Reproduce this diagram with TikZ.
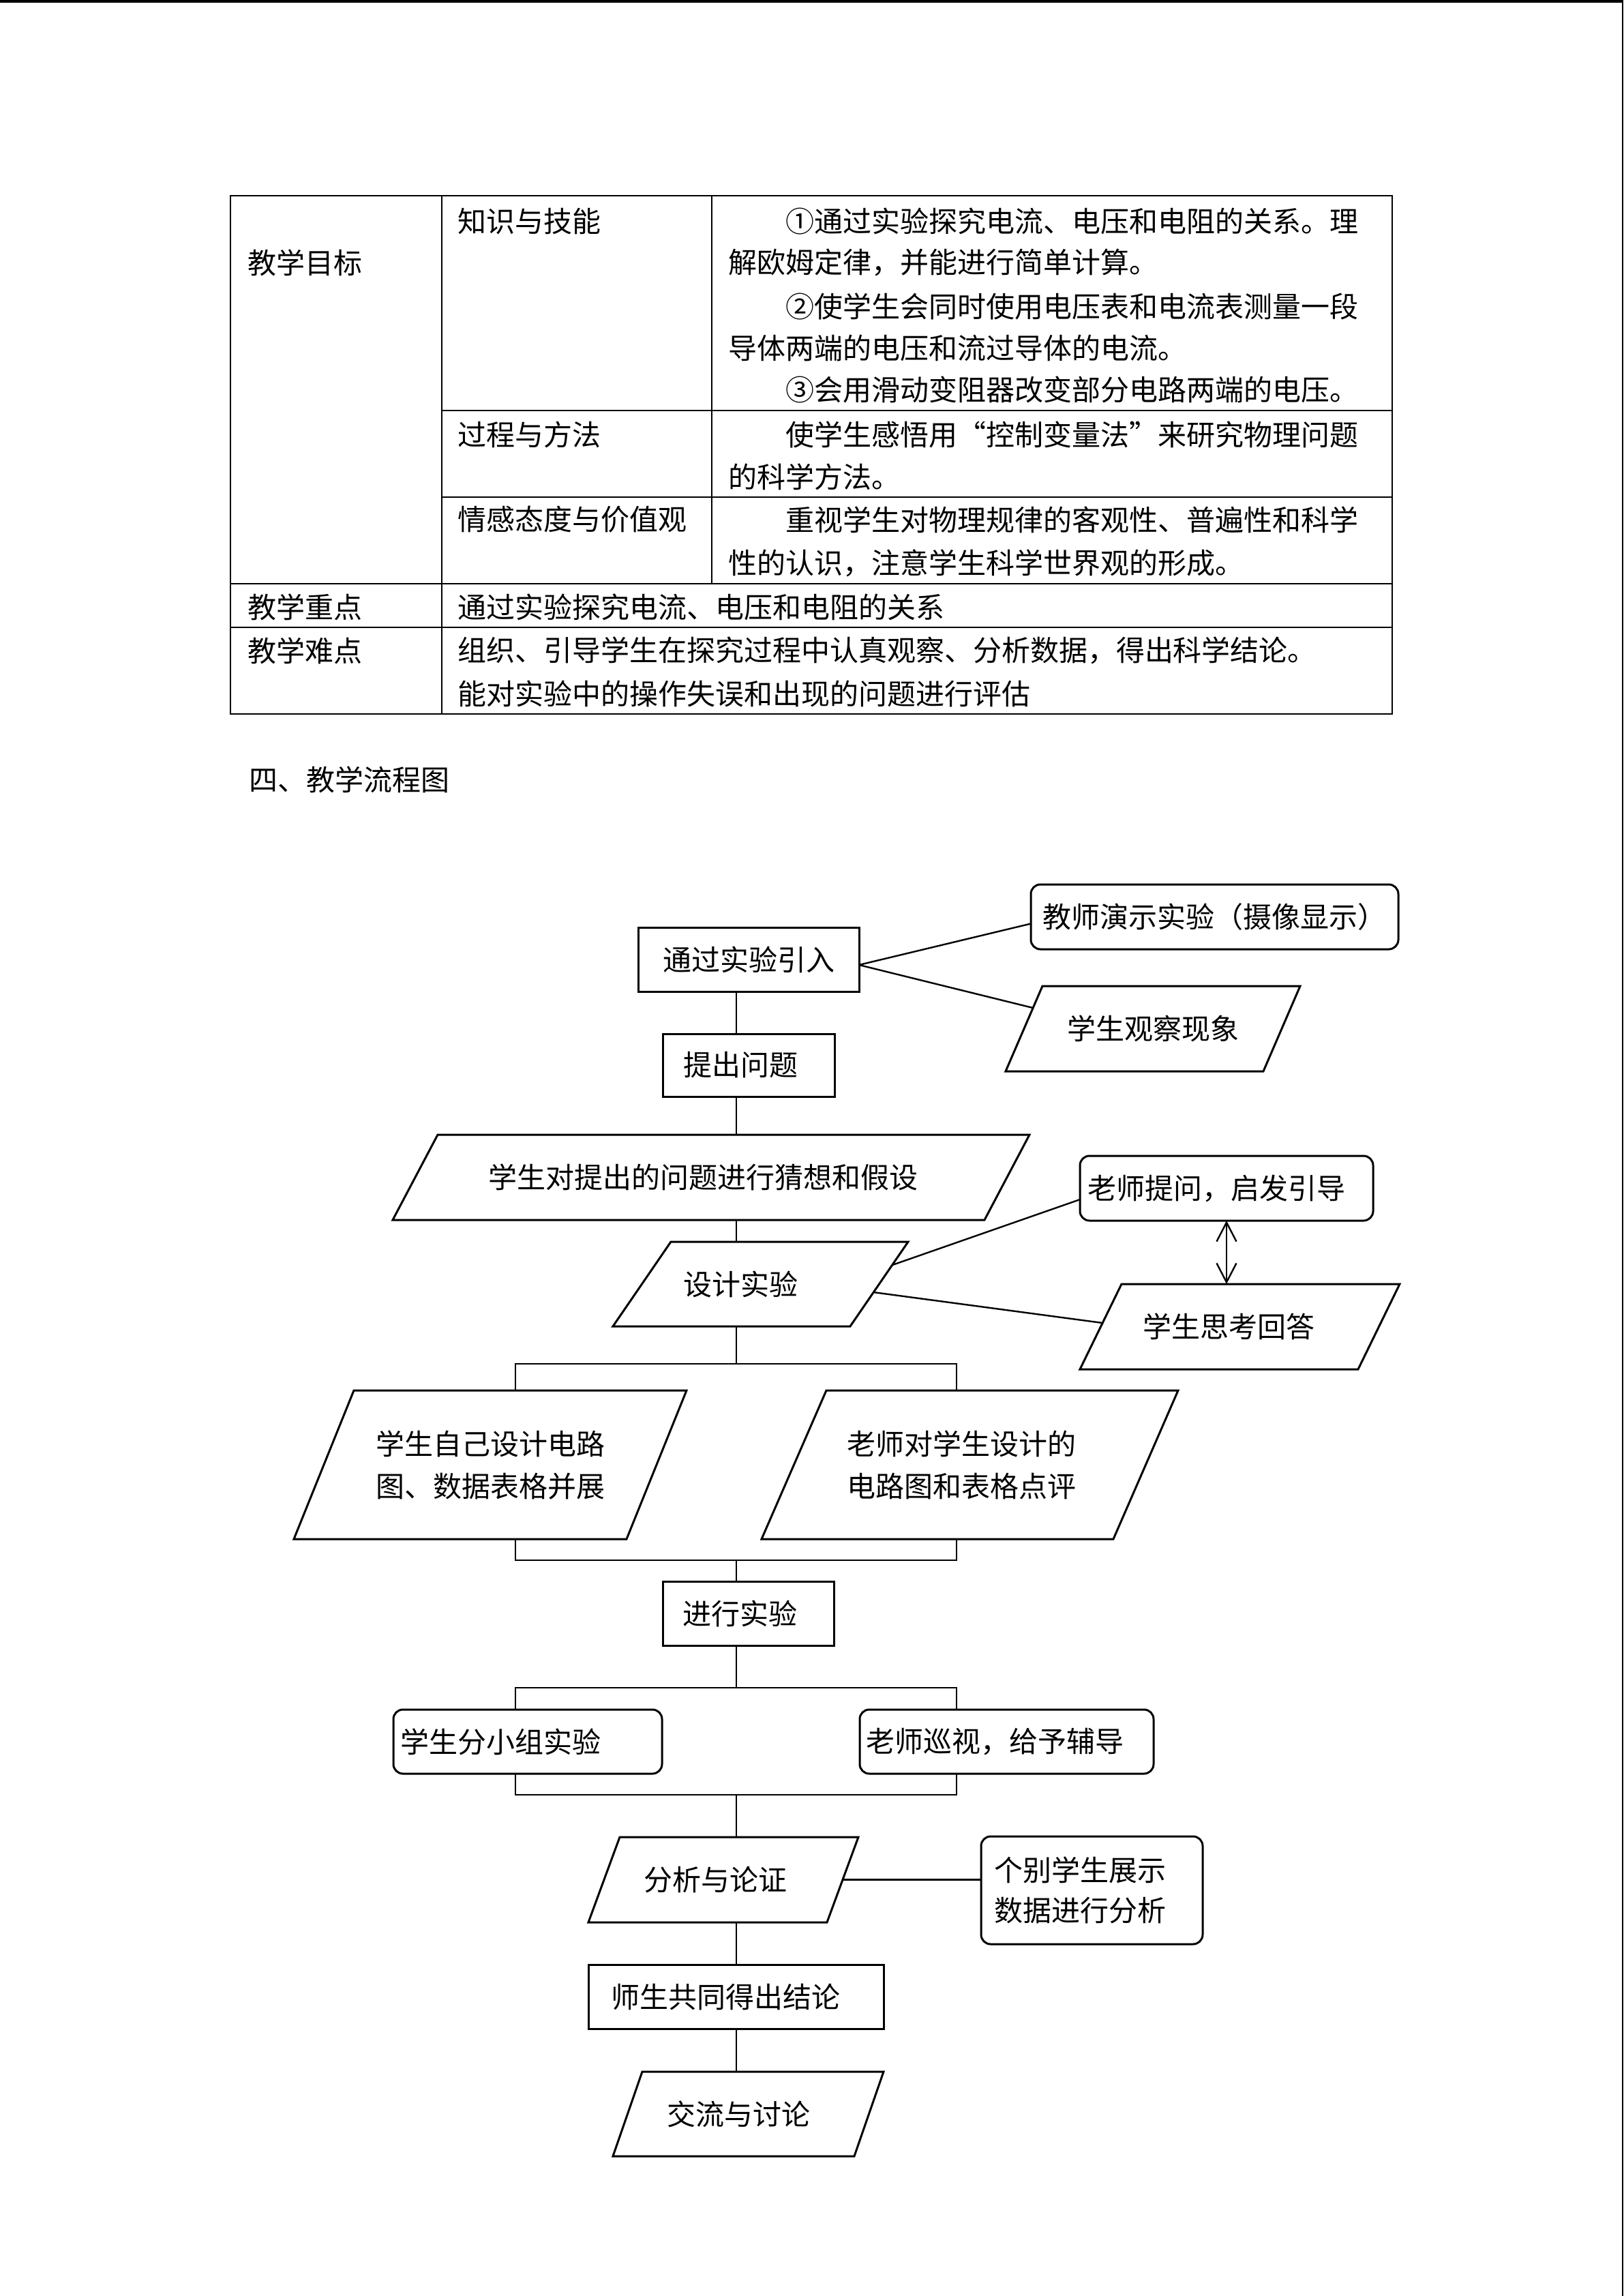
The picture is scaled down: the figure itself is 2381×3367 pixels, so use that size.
\documentclass[tikz,border=0pt]{standalone}
\usepackage{fontspec}
\setmainfont{Noto Sans CJK SC}
\usetikzlibrary{arrows.meta,calc}
\newcommand\myfs{\fontsize{10.5pt}{15.5pt}\selectfont}
\newcommand\tshift[1]{\hspace*{-2\dimexpr#1\relax}}
\newcommand\paraoutline[2]{\draw[boxline] ($(#1.north west)+(#2,0)$) -- (#1.north east) -- ($(#1.south east)+(-#2,0)$) -- (#1.south west) -- cycle;}
\begin{document}
\begin{tikzpicture}[x=0.25pt,y=-0.25pt,
  every node/.style={font=\myfs, inner sep=0pt, outer sep=0pt},
  boxsize/.style 2 args={minimum width=#1, minimum height=#2},
  rectbox/.style={draw, line width=0.75pt},
  roundbox/.style={draw, line width=0.75pt, rounded corners=3.5pt},
  parabox/.style={},
  boxline/.style={line width=0.75pt, line join=miter},
  conn/.style={line width=0.6pt},
  tline/.style={line width=0.55pt},
  cell/.style={anchor=west},
  dbl/.style={{Straight Barb[length=7pt,width=7.25pt]}-{Straight Barb[length=7pt,width=7.25pt]}}
]
\useasboundingbox (0,0) rectangle (2381,3367);
\fill (0,0) rectangle (2381,3.5);
\fill (2379,0) rectangle (2381,3367);

% table
\draw[tline] (338,287) rectangle (2042,1047);
\draw[tline] (648,287) -- (648,1047);
\draw[tline] (1044,287) -- (1044,856);
\draw[tline] (648,602) -- (2042,602);
\draw[tline] (648,729) -- (2042,729);
\draw[tline] (338,856) -- (2042,856);
\draw[tline] (338,920) -- (2042,920);

\node[cell] (t11) at (363,385) {教学目标};
\node[cell] (t12) at (671,324) {知识与技能};
\node[cell] (t13a) at (1152,324) {①通过实验探究电流、电压和电阻的关系。理};
\node[cell] (t13b) at (1068,385) {解欧姆定律，并能进行简单计算。};
\node[cell] (t13c) at (1152,449) {②使学生会同时使用电压表和电流表测量一段};
\node[cell] (t13d) at (1068,510) {导体两端的电压和流过导体的电流。};
\node[cell] (t13e) at (1152,571) {③会用滑动变阻器改变部分电路两端的电压。};
\node[cell] (t22) at (671,637) {过程与方法};
\node[cell] (t23a) at (1152,637) {使学生感悟用“控制变量法”来研究物理问题};
\node[cell] (t23b) at (1068,699) {的科学方法。};
\node[cell] (t32) at (671,762) {情感态度与价值观};
\node[cell] (t33a) at (1152,762) {重视学生对物理规律的客观性、普遍性和科学};
\node[cell] (t33b) at (1068,826) {性的认识，注意学生科学世界观的形成。};
\node[cell] (t41) at (363,890) {教学重点};
\node[cell] (t42) at (671,890) {通过实验探究电流、电压和电阻的关系};
\node[cell] (t51) at (363,954) {教学难点};
\node[cell] (t52a) at (671,954) {组织、引导学生在探究过程中认真观察、分析数据，得出科学结论。};
\node[cell] (t52b) at (671,1017) {能对实验中的操作失误和出现的问题进行评估};
\node[cell] (title) at (365,1143) {四、教学流程图};

% flowchart
\coordinate (axis) at (1080,1300);
\node[rectbox, boxsize={81pt}{23.5pt}] (tg) at (1098,1407) {通过实验引入};
\node[roundbox, boxsize={134.75pt}{23.75pt}] (js) at (1781.5,1344.5) {教师演示实验（摄像显示）};
\node[parabox, boxsize={108pt}{31.25pt}] (gc) at (1691,1508.5) {学生观察现象};
\paraoutline{gc}{54}
\node[rectbox, boxsize={63pt}{23pt}] (tw) at (1098,1562) {\tshift{3pt}提出问题};
\node[parabox, boxsize={233.5pt}{31.25pt}] (cx) at (1043,1726.5) {\tshift{3pt}学生对提出的问题进行猜想和假设};
\paraoutline{cx}{66}
\node[roundbox, boxsize={107.5pt}{23.75pt}] (lt) at (1799,1742.5) {\tshift{3.75pt}老师提问，启发引导};
\node[parabox, boxsize={108.25pt}{31pt}] (sj) at (1115.5,1883) {\tshift{7.25pt}设计实验};
\paraoutline{sj}{85}
\node[parabox, boxsize={117.25pt}{31.25pt}] (sk) at (1818.5,1945.5) {\tshift{4pt}学生思考回答};
\paraoutline{sk}{61}
\node[parabox, boxsize={144pt}{54.5pt}, align=center] (zd) at (719,2148) {学生自己设计电路\\图、数据表格并展};
\paraoutline{zd}{88}
\node[parabox, boxsize={152.75pt}{54.5pt}, align=center] (dp) at (1422.5,2148) {\tshift{3pt}老师对学生设计的\\\tshift{3pt}电路图和表格点评};
\paraoutline{dp}{95}
\node[rectbox, boxsize={62.75pt}{23.5pt}] (jx) at (1097.5,2366) {\tshift{3pt}进行实验};
\node[roundbox, boxsize={98.5pt}{23.5pt}] (fz) at (774,2554) {\tshift{10pt}学生分小组实验};
\node[roundbox, boxsize={107.75pt}{23.5pt}] (xs) at (1476.5,2554) {\tshift{4.25pt}老师巡视，给予辅导};
\node[parabox, boxsize={99pt}{31.25pt}] (fx) at (1061,2756.5) {\tshift{3pt}分析与论证};
\paraoutline{fx}{46}
\node[roundbox, boxsize={81.25pt}{39.5pt}, align=center, font=\fontsize{10.5pt}{14.75pt}\selectfont] (gb) at (1601.5,2772) {\tshift{4.25pt}个别学生展示\\\tshift{4.25pt}数据进行分析};
\node[rectbox, boxsize={108.25pt}{23.5pt}] (jl) at (1079.5,2928) {\tshift{3.75pt}师生共同得出结论};
\node[parabox, boxsize={99.25pt}{31pt}] (tl) at (1097.5,3100) {\tshift{3.5pt}交流与讨论};
\paraoutline{tl}{43}

% connectors
\draw[conn] ($(tg.east)+(0,8)$) -- ($(js.west)+(0,10)$);
\draw[conn] ($(tg.east)+(0,8)$) -- ($(gc.west)+(40,-30.5)$);
\draw[conn] (tg.south -| axis) -- (tw.north -| axis);
\draw[conn] (tw.south -| axis) -- (cx.north -| axis);
\draw[conn] (cx.south -| axis) -- (sj.north -| axis);
\draw[conn] ($(sj.east)+(-23,-28)$) -- ($(lt.west)+(0,16.5)$);
\draw[conn] ($(sj.east)+(-51,12)$) -- ($(sk.west)+(33,-5.5)$);
\draw[conn, dbl] (lt.south) -- (lt.south |- sk.north);

\coordinate (s1) at (1080,2000);
\coordinate (s1l) at (756,2000);
\coordinate (s1r) at (1403,2000);
\draw[conn] (sj.south -| s1) -- (s1);
\draw[conn] (zd.north -| s1l) -- (s1l) -- (s1r) -- (dp.north -| s1r);
\coordinate (m1) at (1080,2288);
\coordinate (m1l) at (756,2288);
\coordinate (m1r) at (1403,2288);
\draw[conn] (zd.south -| m1l) -- (m1l) -- (m1r) -- (dp.south -| m1r);
\draw[conn] (m1) -- (jx.north -| m1);

\coordinate (s2) at (1080,2475);
\coordinate (s2l) at (756,2475);
\coordinate (s2r) at (1403,2475);
\draw[conn] (jx.south -| s2) -- (s2);
\draw[conn] (fz.north -| s2l) -- (s2l) -- (s2r) -- (xs.north -| s2r);
\coordinate (m2) at (1080,2632);
\coordinate (m2l) at (756,2632);
\coordinate (m2r) at (1403,2632);
\draw[conn] (fz.south -| m2l) -- (m2l) -- (m2r) -- (xs.south -| m2r);
\draw[conn] (m2) -- (fx.north -| m2);

\draw[conn] ($(fx.east)+(-23,0)$) -- (fx.east -| gb.west);
\draw[conn] (fx.south -| axis) -- (jl.north -| axis);
\draw[conn] (jl.south -| axis) -- (tl.north -| axis);
\end{tikzpicture}
\end{document}
